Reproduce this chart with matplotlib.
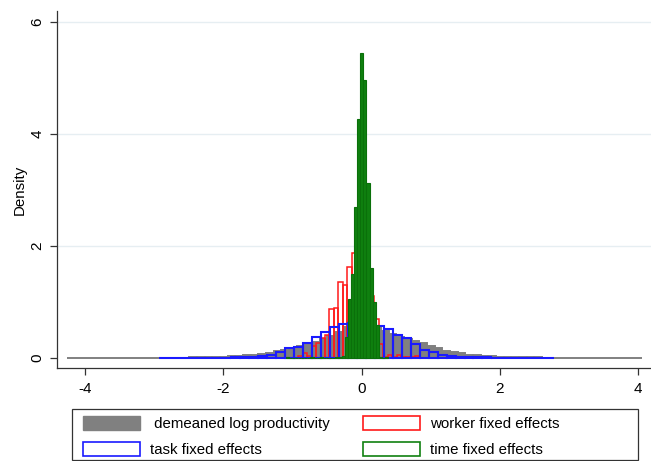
import numpy as np
import matplotlib
matplotlib.use("Agg")
import matplotlib.pyplot as plt
from matplotlib.patches import Patch, Rectangle

plt.rcParams['font.family'] = ['Liberation Sans', 'DejaVu Sans']
plt.rcParams['axes.unicode_minus'] = False

# ---------------- data (bin left edge, bin width, densities) ----------------
gray_left, gray_width = -4.27, 0.111
gray_vals = [0.004] * 12 + [
    0.005, 0.005, 0.006, 0.007, 0.008, 0.010, 0.013, 0.017, 0.022, 0.030,
    0.038, 0.048, 0.060, 0.075, 0.095, 0.115, 0.140, 0.170, 0.205, 0.245,
    0.290, 0.340, 0.400, 0.470, 0.550, 0.640, 0.720, 0.640, 0.560, 0.490,
    0.430, 0.380, 0.340, 0.300, 0.260, 0.220, 0.170, 0.130, 0.100, 0.080,
    0.060, 0.045, 0.035, 0.028, 0.022, 0.018, 0.015, 0.012, 0.010, 0.008,
    0.007, 0.006, 0.005] + [0.004] * 10

blue_left, blue_width = -2.93, 0.13
blue_vals = [0.005] * 8 + [
    0.008, 0.012, 0.018, 0.030, 0.050, 0.110, 0.170, 0.200, 0.270, 0.380,
    0.470, 0.560, 0.600, 0.620, 0.640, 0.600, 0.570, 0.520, 0.410, 0.350,
    0.250, 0.140, 0.100, 0.050, 0.030, 0.020, 0.015, 0.010, 0.008, 0.006,
    0.005, 0.005, 0.005, 0.005, 0.0, 0.005]

red_left, red_width = -0.92, 0.065
red_vals = [0.03, 0.09, 0.04, 0.21, 0.27, 0.36, 0.41, 0.87, 0.90, 1.35,
            1.30, 1.63, 1.88, 1.70, 1.55, 1.30, 1.10, 0.70, 0.24, 0.02,
            0.05, 0.02, 0.05, 0.01, 0.01, 0.02, 0.03]

green_left, green_width = -1.10, 0.045
green_vals = [0.02, 0, 0, 0, 0, 0, 0, 0, 0.02, 0,
              0, 0.02, 0, 0, 0, 0, 0.02, 0.01, 0.03, 0.38,
              1.05, 1.50, 2.70, 4.27, 5.45, 4.96, 3.12, 1.60, 1.00, 0.59,
              0.02, 0, 0.02]

legend_col1 = [" demeaned log productivity", "task fixed effects"]
legend_col2 = ["worker fixed effects", "time fixed effects"]
x_ticks = [-4, -2, 0, 2, 4]
y_ticks = [0, 2, 4, 6]

GRAY = "#808080"
RED = "#ff1a1a"
BLUE = "#1a1aff"
GREEN = "#108010"
W, H = 651, 461

fig = plt.figure(figsize=(W / 100, H / 100), dpi=100)
ax = fig.add_axes([57 / W, 1 - 368 / H, 1 - 57 / W, (368 - 11) / H])


def draw(left, width, vals, **kw):
    vals = np.asarray(vals, dtype=float)
    xs = left + width * np.arange(len(vals))
    ax.bar(xs, vals, width=width, align="edge", **kw)


for yv in y_ticks[1:]:
    ax.axhline(yv, color="#e6eef2", lw=1.0, zorder=0)

draw(gray_left, gray_width, gray_vals, color=GRAY, edgecolor=GRAY,
     linewidth=1.4, zorder=2)
draw(red_left, red_width, red_vals, facecolor="none", edgecolor=RED,
     linewidth=1.1, zorder=3)
draw(blue_left, blue_width, blue_vals, facecolor="none", edgecolor=BLUE,
     linewidth=1.5, zorder=4)
draw(green_left, green_width, green_vals, color=GREEN, edgecolor="#0a700a",
     linewidth=0.8, zorder=5)

ax.set_xlim(-4.41, 4.19)
ax.set_ylim(-0.18, 6.2)
ax.set_xticks(x_ticks)
ax.set_xticklabels([str(t) for t in x_ticks])
ax.set_yticks(y_ticks)
ax.set_yticklabels([str(t) for t in y_ticks], rotation=90, va="center")
ax.tick_params(direction="out", length=5, width=0.9, color="#333333",
               labelsize=11)
ax.tick_params(axis="y", pad=4)
ax.tick_params(axis="x", pad=5)
ax.set_ylabel("Density", fontsize=10.8, labelpad=3)
for s in ["top", "right"]:
    ax.spines[s].set_visible(False)
for s in ["left", "bottom"]:
    ax.spines[s].set_color("#333333")
    ax.spines[s].set_linewidth(0.9)

# legend frame
fig.add_artist(Rectangle((72 / W, 1 - 460 / H), (638 - 72) / W, 51 / H,
                         transform=fig.transFigure, facecolor="white",
                         edgecolor="#333333", linewidth=0.9))

h1 = [Patch(facecolor=GRAY, edgecolor=GRAY),
      Patch(facecolor="white", edgecolor=BLUE, linewidth=1.2)]
h2 = [Patch(facecolor="white", edgecolor=RED, linewidth=1.2),
      Patch(facecolor="white", edgecolor=GREEN, linewidth=1.2)]
common = dict(loc="upper left", fontsize=10.8, handlelength=3.8,
              handleheight=1.07, handletextpad=0.65, borderaxespad=0,
              borderpad=0, labelspacing=0.7, frameon=False)
l1 = fig.legend(h1, legend_col1, bbox_to_anchor=(83 / W, 1 - 416 / H), **common)
l2 = fig.legend(h2, legend_col2, bbox_to_anchor=(363 / W, 1 - 416 / H), **common)

fig.savefig("out.png", dpi=100, facecolor="white")
